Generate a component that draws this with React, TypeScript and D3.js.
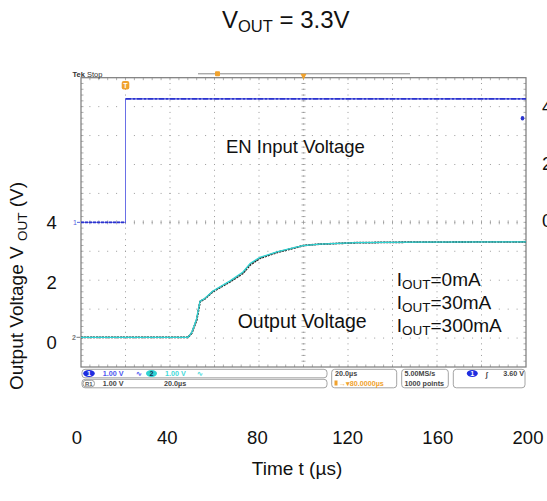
import React from 'react';
import * as d3 from 'd3';

// ---- axis tick labels (outer figure axes) ----
const xTickLabels = [0, 40, 80, 120, 160, 200];
const yTickLabels = [0, 2, 4];
const enTickLabels = [0, 2, 4];

// ---- EN input (scope channel 1, volts) ----
const enTime = [0, 20, 20, 200];
const enVolt = [0, 0, 4.27, 4.27];

// ---- output voltage traces (scope channel 2, volts) ----
const outTime = [0, 48.1, 49.8, 52.0, 53.5, 55.7, 59.3, 67.0, 72.8, 76.0, 80.4, 88.0, 95.3, 99.8, 107.4, 123.9, 150, 200];
const out0mA = [0, 0, 0.15, 0.6, 1.23, 1.33, 1.58, 1.92, 2.21, 2.5, 2.73, 2.93, 3.08, 3.17, 3.22, 3.27, 3.29, 3.3];
const out30mA = [0, 0, 0.16, 0.62, 1.24, 1.34, 1.59, 1.93, 2.23, 2.52, 2.74, 2.94, 3.08, 3.17, 3.22, 3.27, 3.29, 3.3];
const out300mA = [0, 0, 0.17, 0.65, 1.25, 1.35, 1.6, 1.95, 2.26, 2.55, 2.76, 2.95, 3.09, 3.17, 3.22, 3.27, 3.29, 3.3];

const legendLabels = ['=0mA', '=30mA', '=300mA'];

const W = 547;
const H = 501;
const FONT = 'Liberation Sans, Arial, sans-serif';

export default function App() {
  // scope screen geometry
  const L = 81, R = 526, T = 77.7, B = 367;
  const divX = (R - L) / 10;
  const divY = (B - T) / 10;
  const midY = T + 5 * divY;
  const midX = L + 5 * divX;

  const sx = d3.scaleLinear().domain([0, 200]).range([L, R]);
  const syCh1 = d3.scaleLinear().domain([0, 1]).range([midY, midY - divY]);
  const syCh2 = d3.scaleLinear().domain([0, 1]).range([337.3, 337.3 - divY]);

  // outer axes (labels only)
  const ax = d3.scaleLinear().domain([0, 200]).range([77, 528]);
  const ay = d3.scaleLinear().domain([0, 4]).range([342.7, 222.5]);
  const ayEn = d3.scaleLinear().domain([0, 4]).range([220, 106]);

  const lineOf = (t: number[], v: number[], sy: d3.ScaleLinear<number, number>) =>
    d3.line<number>().x((_, i) => sx(t[i])).y((d) => sy(d))(v) || '';

  const enPath = lineOf(enTime, enVolt, syCh1);
  const enHighPath = lineOf(enTime.slice(2), enVolt.slice(2), syCh1);
  const enLowPath = lineOf(enTime.slice(0, 2), enVolt.slice(0, 2), syCh1);

  const gridXs = d3.range(1, 10).map((k) => L + k * divX);
  const gridYs = d3.range(1, 10).map((k) => T + k * divY);
  const minorX = d3.range(1, 50).map((k) => L + (k * divX) / 5);
  const minorY = d3.range(1, 50).map((k) => T + (k * divY) / 5);

  const gray = '#9a9a9a';
  const blue = '#2b33cf';
  const cyan = '#2fd3d3';
  const orange = '#f0a22e';
  const sb = { fontFamily: FONT, fontSize: 7.2, fontWeight: 700 } as const;

  return (
    <svg width={W} height={H} style={{ position: 'absolute', left: 0, top: 0, background: '#fff' }}
      xmlns="http://www.w3.org/2000/svg">
      <rect x={0} y={0} width={W} height={H} fill="#fff" />
      {/* Title */}
      <text x={222} y={28.3} fontFamily={FONT} fontSize={24} fill="#111">
        <tspan>V</tspan>
        <tspan fontSize={16.5} dy={3.5}>OUT</tspan>
        <tspan dy={-3.5}> = 3.3V</tspan>
      </text>

      {/* ---- scope screen ---- */}
      {gridXs.map((x, i) => (
        <line key={'gx' + i} x1={x} x2={x} y1={T} y2={B} stroke={gray} strokeWidth={1}
          strokeDasharray={`1 ${divY / 5 - 1}`} strokeDashoffset={-(divY / 5) + 0.5} />
      ))}
      {gridYs.map((y, i) => (
        <line key={'gy' + i} x1={L} x2={R} y1={y} y2={y} stroke={gray} strokeWidth={1}
          strokeDasharray={`1 ${divX / 5 - 1}`} strokeDashoffset={-(divX / 5) + 0.5} />
      ))}
      {minorX.map((x, i) => (
        <line key={'cx' + i} x1={x} x2={x} y1={midY - 2} y2={midY + 2} stroke={gray} strokeWidth={0.8} />
      ))}
      {minorY.map((y, i) => (
        <line key={'cy' + i} x1={midX - 2} x2={midX + 2} y1={y} y2={y} stroke={gray} strokeWidth={0.8} />
      ))}
      {minorX.map((x, i) => (
        <g key={'bx' + i}>
          <line x1={x} x2={x} y1={T} y2={T + 2.5} stroke={gray} strokeWidth={0.8} />
          <line x1={x} x2={x} y1={B} y2={B - 2.5} stroke={gray} strokeWidth={0.8} />
        </g>
      ))}
      {minorY.map((y, i) => (
        <g key={'by' + i}>
          <line x1={L} x2={L + 2.5} y1={y} y2={y} stroke={gray} strokeWidth={0.8} />
          <line x1={R} x2={R - 2.5} y1={y} y2={y} stroke={gray} strokeWidth={0.8} />
        </g>
      ))}
      <rect x={L} y={T} width={R - L} height={B - T} fill="none" stroke="#7a7a7a" strokeWidth={1.2} />

      {/* Tek Stop + record bar */}
      <text x={72.5} y={76.5} fontFamily={FONT} fontSize={7.5} fill="#333">
        <tspan fontWeight={700}>Tek</tspan><tspan> Stop</tspan>
      </text>
      <line x1={198} x2={410} y1={73.8} y2={73.8} stroke="#888" strokeWidth={1} />
      <rect x={215} y={71.3} width={5} height={5} rx={1} fill={orange} />
      <path d={`M${midX - 3},${T - 4} L${midX + 3},${T - 4} L${midX},${T + 2} Z`} fill={orange} />
      <rect x={sx(20) - 3.8} y={81} width={7.6} height={8.5} rx={2} fill={orange} />
      <text x={sx(20)} y={87.8} textAnchor="middle" fontFamily={FONT} fontSize={7} fontWeight={700} fill="#fff">T</text>
      <ellipse cx={522.5} cy={syCh1(3.6)} rx={1.8} ry={2.2} fill={blue} />

      {/* channel markers */}
      <text x={73} y={midY + 2.5} fontFamily={FONT} fontSize={7} fill="#5560e0">1</text>
      <line x1={77} x2={80} y1={midY} y2={midY} stroke="#5560e0" strokeWidth={1} />
      <text x={72} y={syCh2(0) + 2.5} fontFamily={FONT} fontSize={7} fontWeight={700} fill="#777">2</text>
      <line x1={76.5} x2={80} y1={syCh2(0)} y2={syCh2(0)} stroke="#777" strokeWidth={1} />

      {/* EN trace */}
      <path d={enPath} fill="none" stroke="#6a70e6" strokeWidth={1} />
      <path d={enLowPath} fill="none" stroke={blue} strokeWidth={1.6} strokeDasharray="3 1" />
      <path d={enHighPath} fill="none" stroke={blue} strokeWidth={1.8} strokeDasharray="6 1 3 1" />

      {/* output traces */}
      <path d={lineOf(outTime, out0mA, syCh2)} fill="none" stroke="#222" strokeWidth={1.8} strokeDasharray="2 1" />
      <path d={lineOf(outTime, out30mA, syCh2)} fill="none" stroke="#555" strokeWidth={1.2} strokeDasharray="3 2" />
      <path d={lineOf(outTime, out300mA, syCh2)} fill="none" stroke={cyan} strokeWidth={1.3} />

      {/* status bar */}
      <rect x={82} y={369.3} width={245} height={8.5} rx={3} fill="#fff" stroke={gray} strokeWidth={0.9} />
      <rect x={82} y={379.3} width={245} height={8.5} rx={3} fill="#fff" stroke={gray} strokeWidth={0.9} />
      <rect x={331.7} y={369.3} width={65} height={18.5} rx={3} fill="#fff" stroke={gray} strokeWidth={0.9} />
      <rect x={401.7} y={369.3} width={46.6} height={18.5} rx={3} fill="#fff" stroke={gray} strokeWidth={0.9} />
      <rect x={453.3} y={369.3} width={71.7} height={18.5} rx={3} fill="#fff" stroke={gray} strokeWidth={0.9} />

      <ellipse cx={89} cy={373.5} rx={5.8} ry={3.4} fill="#1e2de0" />
      <text x={89} y={376} textAnchor="middle" {...sb} fill="#fff">1</text>
      <text x={102.7} y={376} {...sb} fill="#4a55f0">1.00 V</text>
      <text x={136} y={376} {...sb} fill="#4a55f0">∿</text>
      <ellipse cx={151.5} cy={373.5} rx={5.5} ry={3.4} fill={cyan} />
      <text x={151.5} y={376} textAnchor="middle" {...sb} fill="#135">2</text>
      <text x={165} y={376} {...sb} fill="#3fd9d9">1.00 V</text>
      <text x={197} y={376} {...sb} fill="#3fd9d9">∿</text>

      <rect x={83} y={380.3} width={11.5} height={6.5} rx={3} fill="#fff" stroke="#888" strokeWidth={0.8} />
      <text x={88.8} y={386} textAnchor="middle" {...sb} fontSize={6} fill="#555">R1</text>
      <text x={102.7} y={386} {...sb} fill="#444">1.00 V</text>
      <text x={164} y={386} {...sb} fill="#444">20.0µs</text>

      <text x={335} y={376} {...sb} fill="#444">20.0µs</text>
      <rect x={334.5} y={380.5} width={3} height={5} fill={orange} />
      <text x={338.5} y={386} {...sb} fill={orange}>→▾80.0000µs</text>

      <text x={404.5} y={376} {...sb} fill="#444">5.00MS/s</text>
      <text x={404.5} y={386} {...sb} fill="#444">1000 points</text>

      <ellipse cx={472.3} cy={373.5} rx={5.5} ry={3.4} fill="#1e2de0" />
      <text x={472.3} y={376} textAnchor="middle" {...sb} fill="#fff">1</text>
      <text x={485.5} y={376.5} {...sb} fill="#444">∫</text>
      <text x={524} y={376} textAnchor="end" {...sb} fill="#444">3.60 V</text>

      {/* in-plot annotations */}
      <text x={226} y={153.3} fontFamily={FONT} fontSize={18.5} fill="#111">EN Input Voltage</text>
      <text x={237.7} y={327.7} fontFamily={FONT} fontSize={19.5} fill="#111">Output Voltage</text>
      {legendLabels.map((lab, i) => (
        <text key={lab} x={396.7} y={286 + i * 22.8} fontFamily={FONT} fontSize={19} fill="#111">
          <tspan>I</tspan>
          <tspan fontSize={13.5} dy={3}>OUT</tspan>
          <tspan dy={-3}>{lab}</tspan>
        </text>
      ))}

      {/* outer axes tick labels */}
      {xTickLabels.map((v) => (
        <text key={'xt' + v} x={ax(v)} y={444} textAnchor="middle" fontFamily={FONT} fontSize={18.5} fill="#111">{v}</text>
      ))}
      {yTickLabels.map((v) => (
        <text key={'yt' + v} x={51.7} y={ay(v)} dy="0.36em" textAnchor="middle" fontFamily={FONT} fontSize={18.5} fill="#111">{v}</text>
      ))}
      {enTickLabels.map((v) => (
        <text key={'et' + v} x={542} y={ayEn(v)} dy="0.36em" fontFamily={FONT} fontSize={18.5} fill="#111">{v}</text>
      ))}
      <text x={297} y={475} textAnchor="middle" fontFamily={FONT} fontSize={19} fill="#111">Time t (µs)</text>
      <text transform="translate(23,390) rotate(-90)" fontFamily={FONT} fontSize={19} fill="#111">
        <tspan>Output Voltage V </tspan>
        <tspan fontSize={13.5} dy={4}>OUT</tspan>
        <tspan dy={-4}> (V)</tspan>
      </text>
    </svg>
  );
}
